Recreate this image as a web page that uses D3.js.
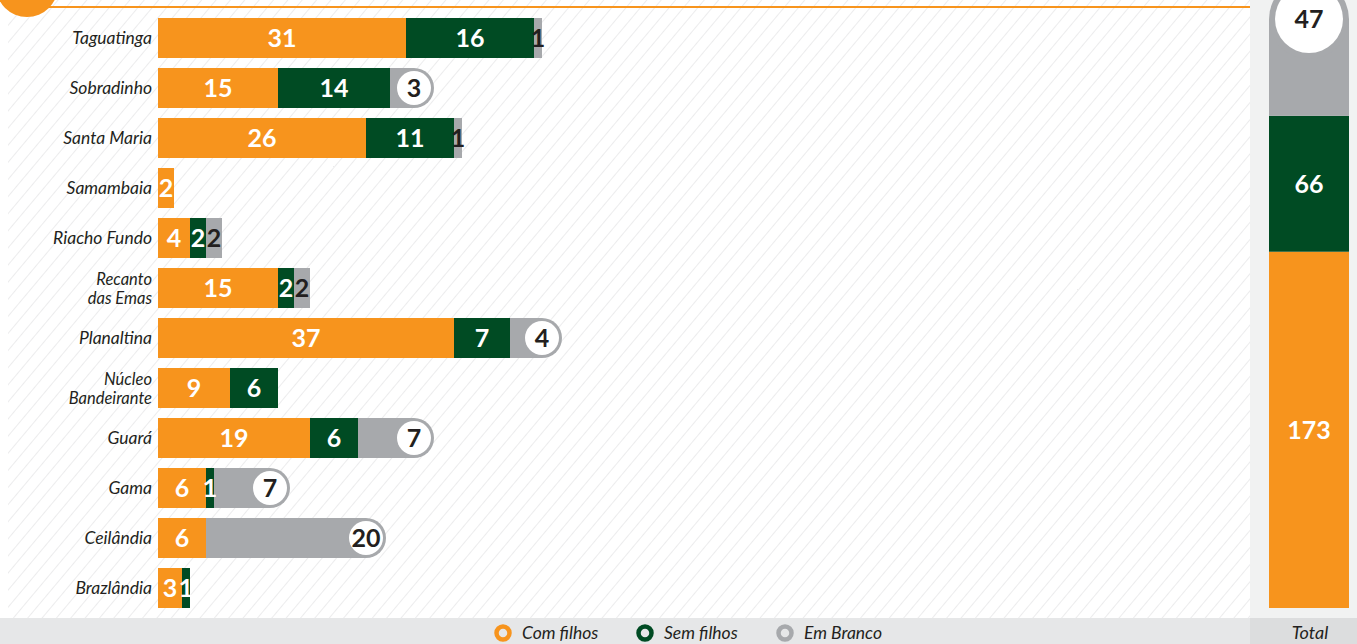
<!DOCTYPE html>
<html>
<head>
<meta charset="utf-8">
<script src="https://cdn.jsdelivr.net/npm/d3@7"></script>
<style>
  html, body { margin: 0; padding: 0; background: #fff; }
  svg { display: block; }
</style>
</head>
<body>
<svg id="chart" width="1357" height="644"></svg>
<script>
// Data
const categories = ['Taguatinga', 'Sobradinho', 'Santa Maria', 'Samambaia', 'Riacho Fundo',
  'Recanto das Emas', 'Planaltina', 'Núcleo Bandeirante', 'Guará', 'Gama', 'Ceilândia', 'Brazlândia'];
const labelLines = [['Taguatinga'], ['Sobradinho'], ['Santa Maria'], ['Samambaia'], ['Riacho Fundo'],
  ['Recanto', 'das Emas'], ['Planaltina'], ['Núcleo', 'Bandeirante'], ['Guará'], ['Gama'], ['Ceilândia'], ['Brazlândia']];
const comFilhos = [31, 15, 26, 2, 4, 15, 37, 9, 19, 6, 6, 3];
const semFilhos = [16, 14, 11, 0, 2, 2, 7, 6, 6, 1, 0, 1];
const emBranco = [1, 3, 1, 0, 2, 2, 4, 0, 7, 7, 20, 0];
const seriesNames = ['Com filhos', 'Sem filhos', 'Em Branco'];
const totalLabel = 'Total';

const ORANGE = '#f7941d';
const GREEN = '#004b23';
const GRAY = '#a7a9ac';
const DARK = '#231f20';
const colors = [ORANGE, GREEN, GRAY];
const NUM_FONT = 'Lato, "Open Sans", sans-serif';
const LABEL_FONT = 'Lato, "Open Sans", sans-serif';

const svg = d3.select('#chart');
const W = 1357, H = 644;

// hatch pattern background
const defs = svg.append('defs');
const pat = defs.append('pattern')
  .attr('id', 'hatch')
  .attr('patternUnits', 'userSpaceOnUse')
  .attr('width', 11).attr('height', 11)
  .attr('patternTransform', 'rotate(40)');
pat.append('line')
  .attr('x1', 0).attr('y1', 0).attr('x2', 0).attr('y2', 11)
  .attr('stroke', '#d9dadb').attr('stroke-width', 1);

svg.append('rect').attr('x', 8).attr('y', 0).attr('width', 1242).attr('height', 618)
  .attr('fill', 'url(#hatch)');
// right panel
svg.append('rect').attr('x', 1250).attr('y', 0).attr('width', W - 1250).attr('height', 618)
  .attr('fill', '#f1f2f2');
// bottom strip
svg.append('rect').attr('x', 0).attr('y', 618).attr('width', 1250).attr('height', H - 618)
  .attr('fill', '#e6e7e8');
svg.append('rect').attr('x', 1250).attr('y', 618).attr('width', W - 1250).attr('height', H - 618)
  .attr('fill', '#dcddde');

// top decoration
svg.append('line').attr('x1', 30).attr('x2', 1250).attr('y1', 7).attr('y2', 7)
  .attr('stroke', ORANGE).attr('stroke-width', 2);
svg.append('circle').attr('cx', 27).attr('cy', -14).attr('r', 31).attr('fill', ORANGE);

// scales
const x = d3.scaleLinear().domain([0, 100]).range([158, 958]);
const y = d3.scaleBand().domain(categories).range([13, 613]).paddingInner(0.2).paddingOuter(0.1);

const rows = categories.map((c, i) => {
  const vals = [comFilhos[i], semFilhos[i], emBranco[i]];
  let acc = 0;
  const segs = vals.map((v, k) => {
    const s = { cat: c, k, v, x0: acc, x1: acc + v };
    acc += v;
    return s;
  });
  return { cat: c, i, segs, total: acc };
});

const rowG = svg.append('g').selectAll('g.row').data(rows).join('g').attr('class', 'row');

// segments
rowG.each(function (r) {
  const g = d3.select(this);
  const bh = y.bandwidth();
  const y0 = y(r.cat);
  const cy = y0 + bh / 2;
  r.segs.filter(s => s.v > 0).forEach(s => {
    g.append('rect')
      .attr('x', x(s.x0)).attr('y', y0)
      .attr('width', x(s.x1) - x(s.x0)).attr('height', bh)
      .attr('fill', colors[s.k]);
  });
  const b = r.segs[2];
  const bubble = b.v >= 3;
  if (bubble) {
    g.append('circle').attr('cx', x(b.x1)).attr('cy', cy).attr('r', bh / 2).attr('fill', GRAY);
    g.append('circle').attr('cx', x(b.x1)).attr('cy', cy).attr('r', bh / 2 - 3).attr('fill', '#fff');
  }
  r.segs.filter(s => s.v > 0).forEach(s => {
    let tx = (x(s.x0) + x(s.x1)) / 2;
    if (s.k === 2 && bubble) tx = x(s.x1);
    g.append('text')
      .attr('x', tx).attr('y', cy)
      .attr('dy', '0.36em')
      .attr('text-anchor', 'middle')
      .attr('font-family', NUM_FONT)
      .attr('font-weight', 700)
      .attr('font-size', 25)
      .attr('fill', s.k === 2 ? DARK : '#fff')
      .text(s.v);
  });
  // category label
  const lines = labelLines[r.i];
  const t = g.append('text')
    .attr('x', 152)
    .attr('text-anchor', 'end')
    .attr('font-family', LABEL_FONT)
    .attr('font-style', 'italic')
    .attr('font-size', lines.length > 1 ? 16.5 : 17.5)
    .attr('fill', DARK);
  lines.forEach((ln, j) => {
    t.append('tspan')
      .attr('x', 152)
      .attr('y', cy + 6 + (j - (lines.length - 1) / 2) * 19)
      .text(ln);
  });
});

// total column
const totals = [d3.sum(comFilhos), d3.sum(semFilhos), d3.sum(emBranco)];
const grand = d3.sum(totals);
const ty = d3.scaleLinear().domain([0, grand]).range([608, 19]);
const tx0 = 1269, tw = 80;
let acc = 0;
const tsegs = totals.map((v, k) => { const s = { v, k, y0: acc, y1: acc + v }; acc += v; return s; });
const tg = svg.append('g');
tsegs.forEach(s => {
  tg.append('rect')
    .attr('x', tx0).attr('y', ty(s.y1))
    .attr('width', tw).attr('height', ty(s.y0) - ty(s.y1))
    .attr('fill', colors[s.k]);
});
const topSeg = tsegs[2];
tg.append('circle').attr('cx', tx0 + tw / 2).attr('cy', ty(topSeg.y1)).attr('r', tw / 2).attr('fill', GRAY);
tg.append('circle').attr('cx', tx0 + tw / 2).attr('cy', ty(topSeg.y1)).attr('r', 34).attr('fill', '#fff');
tsegs.forEach(s => {
  const cy = s.k === 2 ? ty(s.y1) : (ty(s.y0) + ty(s.y1)) / 2;
  tg.append('text')
    .attr('x', tx0 + tw / 2).attr('y', cy)
    .attr('dy', '0.36em')
    .attr('text-anchor', 'middle')
    .attr('font-family', NUM_FONT)
    .attr('font-weight', 700)
    .attr('font-size', 25)
    .attr('fill', s.k === 2 ? DARK : '#fff')
    .text(s.v);
});
svg.append('text')
  .attr('x', 1310).attr('y', 639)
  .attr('text-anchor', 'middle')
  .attr('font-family', LABEL_FONT)
  .attr('font-style', 'italic')
  .attr('font-size', 18)
  .attr('fill', DARK)
  .text(totalLabel);

// legend
const legendX = [503, 645, 785];
const lg = svg.append('g').selectAll('g').data(seriesNames).join('g')
  .attr('transform', (d, i) => `translate(${legendX[i]},633)`);
lg.append('circle').attr('r', 6.5).attr('fill', 'none')
  .attr('stroke', (d, i) => colors[i]).attr('stroke-width', 4.5);
lg.append('text')
  .attr('x', 19).attr('y', 6)
  .attr('font-family', LABEL_FONT)
  .attr('font-style', 'italic')
  .attr('font-size', 17.5)
  .attr('fill', DARK)
  .text(d => d);
</script>
</body>
</html>
